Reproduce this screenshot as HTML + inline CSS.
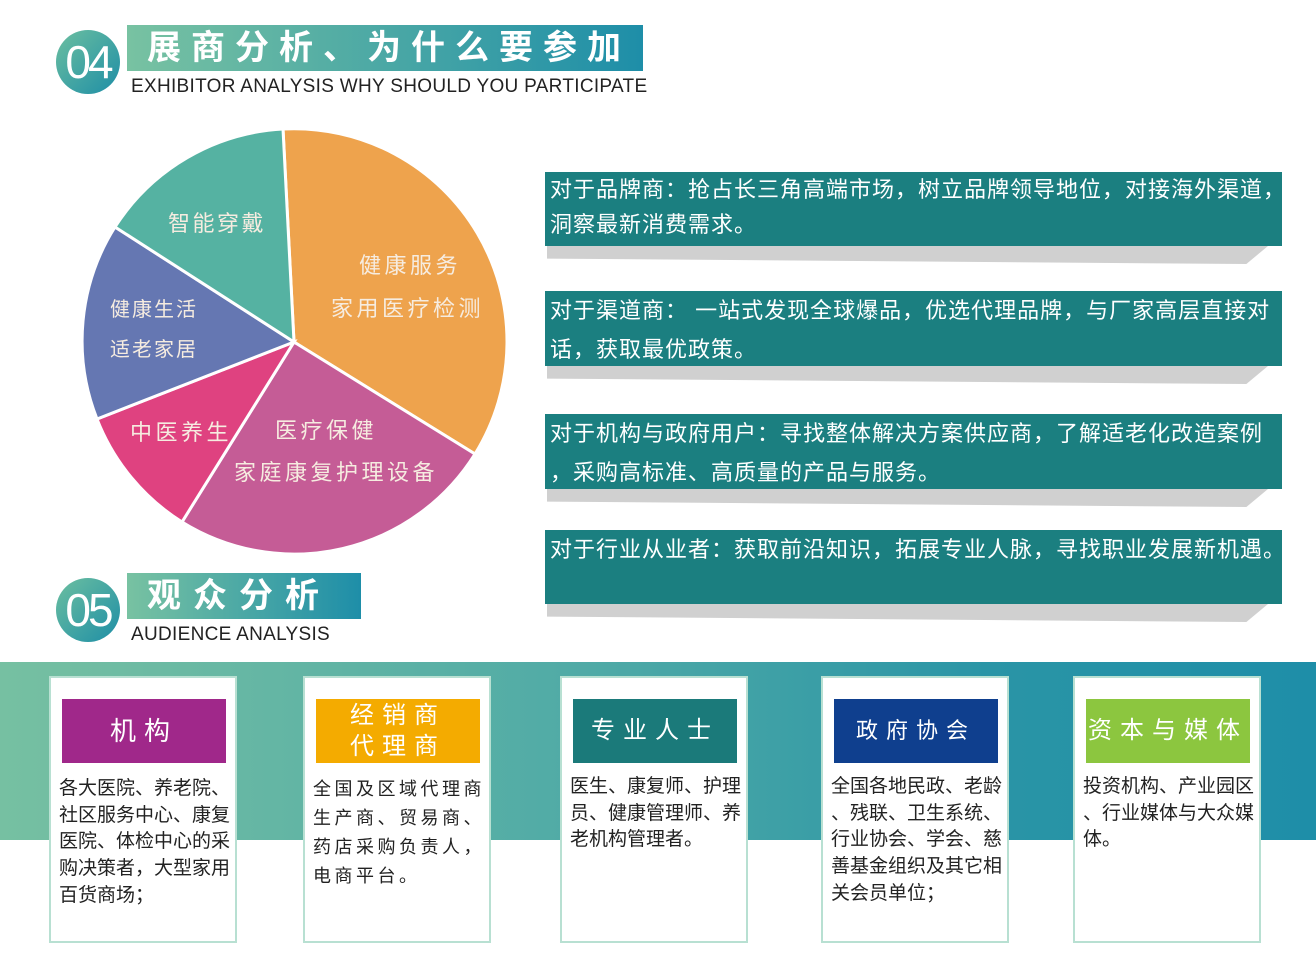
<!DOCTYPE html>
<html><head><meta charset="utf-8"><style>
*{margin:0;padding:0;box-sizing:border-box}
body{width:1316px;height:964px;background:#fff;position:relative;overflow:hidden;font-family:"Liberation Sans","Noto Sans CJK SC",sans-serif}
.a{position:absolute}
.circ{position:absolute;width:64px;height:64px;border-radius:50%;background:linear-gradient(135deg,#6cbfa0,#1e8ea6);color:#fff;font-size:46px;line-height:64px;text-align:center;letter-spacing:-3px}
.ban{position:absolute;height:46px;background:linear-gradient(90deg,#78c2a2,#1e8ea8);color:#fff;font-size:34px;font-weight:bold;line-height:46px;padding-left:20px;letter-spacing:10px}
.sub{position:absolute;font-size:19px;color:#222;letter-spacing:0.3px}
.box{position:absolute;left:545px;width:737px;background:#1b7f80;color:#fff;font-size:22px;line-height:35px;padding:0 0 0 5px;white-space:nowrap;overflow:hidden;letter-spacing:1px}
.sh{position:absolute;background:#d0d0d0}
.card{position:absolute;top:676px;width:188px;height:267px;background:#fff;border:2px solid #b8e0d2}
.hd{position:absolute;left:11px;top:21px;width:164px;height:64px;color:#fff;font-size:24px;text-align:center;letter-spacing:8px}
.tx{position:absolute;left:8px;top:98px;font-size:19px;line-height:26.7px;color:#222;white-space:nowrap}
</style></head><body>
<div class="circ" style="left:56px;top:30px">04</div>
<div class="ban" style="left:127px;top:25px;width:516px">展商分析、为什么要参加</div>
<div class="sub" style="left:131px;top:76px">EXHIBITOR ANALYSIS WHY SHOULD YOU PARTICIPATE</div>

<svg class="a" style="left:0;top:0" width="540" height="580">
<g stroke="#fff" stroke-width="3">
<path d="M294 342 L283 129 A213 213 0 0 1 475 454 Z" fill="#eea34d"/>
<path d="M294 342 L475 454 A213 213 0 0 1 182 522 Z" fill="#c55c96"/>
<path d="M294 342 L182 522 A213 213 0 0 1 97 419 Z" fill="#df4280"/>
<path d="M294 342 L97 419 A213 213 0 0 1 115 227 Z" fill="#6577b2"/>
<path d="M294 342 L115 227 A213 213 0 0 1 283 129 Z" fill="#55b2a2"/>
</g>
<g fill="#f6ece0" font-family="Liberation Sans,Noto Sans CJK SC,sans-serif" font-size="22" letter-spacing="3.5">
<text x="168" y="231" letter-spacing="2.5">智能穿戴</text>
<text x="359" y="273">健康服务</text>
<text x="331" y="316">家用医疗检测</text>
<text x="110" y="316" font-size="20" letter-spacing="2">健康生活</text>
<text x="110" y="356" font-size="20" letter-spacing="2">适老家居</text>
<text x="130" y="440">中医养生</text>
<text x="275" y="438">医疗保健</text>
<text x="234" y="480">家庭康复护理设备</text>
</g>
</svg>

<div class="sh" style="left:547px;top:246px;width:721px;height:18px;clip-path:polygon(0 0,100% 0,97% 100%,0 70%)"></div>
<div class="box" style="top:172px;height:74px;padding-top:0">对于品牌商：抢占长三角高端市场，树立品牌领导地位，对接海外渠道，<br>洞察最新消费需求。</div>
<div class="sh" style="left:547px;top:366px;width:721px;height:18px;clip-path:polygon(0 0,100% 0,97% 100%,0 70%)"></div>
<div class="box" style="top:291px;height:75px;line-height:39px;padding-top:0">对于渠道商： 一站式发现全球爆品，优选代理品牌，与厂家高层直接对<br>话，获取最优政策。</div>
<div class="sh" style="left:547px;top:489px;width:721px;height:18px;clip-path:polygon(0 0,100% 0,97% 100%,0 70%)"></div>
<div class="box" style="top:414px;height:75px;line-height:39px;padding-top:0">对于机构与政府用户：寻找整体解决方案供应商，了解适老化改造案例<br>，采购高标准、高质量的产品与服务。</div>
<div class="sh" style="left:547px;top:604px;width:721px;height:18px;clip-path:polygon(0 0,100% 0,97% 100%,0 70%)"></div>
<div class="box" style="top:530px;height:74px;padding-top:2px">对于行业从业者：获取前沿知识，拓展专业人脉，寻找职业发展新机遇。</div>

<div class="circ" style="left:56px;top:578px">05</div>
<div class="ban" style="left:127px;top:573px;width:234px;letter-spacing:12px">观众分析</div>
<div class="sub" style="left:131px;top:624px">AUDIENCE ANALYSIS</div>

<div class="a" style="left:0;top:662px;width:1316px;height:178px;background:linear-gradient(90deg,#76c0a2,#4faaa6 45%,#2a95a6 75%,#1e8ea8)"></div>

<div class="card" style="left:49px"><div class="hd" style="background:#a0288a;line-height:64px;font-size:26px">机构</div>
<div class="tx">各大医院、养老院、<br>社区服务中心、康复<br>医院、体检中心的采<br>购决策者，大型家用<br>百货商场；</div></div>
<div class="card" style="left:303px"><div class="hd" style="background:#f4ab00;line-height:31px;padding-top:1px">经销商<br>代理商</div>
<div class="tx" style="top:97px;line-height:29px;font-size:18px;letter-spacing:3.5px">全国及区域代理商<br>生产商、贸易商、<br>药店采购负责人，<br>电商平台。</div></div>
<div class="card" style="left:560px"><div class="hd" style="background:#1b7a7a;line-height:64px">专业人士</div>
<div class="tx" style="top:96px">医生、康复师、护理<br>员、健康管理师、养<br>老机构管理者。</div></div>
<div class="card" style="left:821px"><div class="hd" style="background:#0f3f8e;line-height:64px;font-size:22px">政府协会</div>
<div class="tx" style="top:96px">全国各地民政、老龄<br>、残联、卫生系统、<br>行业协会、学会、慈<br>善基金组织及其它相<br>关会员单位；</div></div>
<div class="card" style="left:1073px"><div class="hd" style="background:#8cc63f;line-height:64px">资本与媒体</div>
<div class="tx" style="top:96px">投资机构、产业园区<br>、行业媒体与大众媒<br>体。</div></div>
</body></html>
